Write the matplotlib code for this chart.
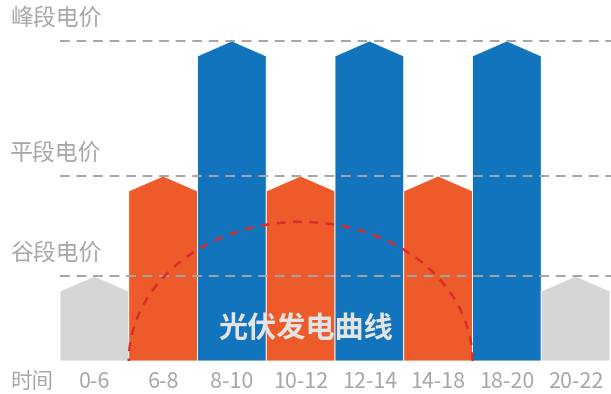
import matplotlib.pyplot as plt
from matplotlib.patches import Polygon, Arc

plt.rcParams['font.family'] = ['Noto Sans CJK SC', 'DejaVu Sans']

# time slots and their price level (normalised so the peak price is 1.0)
slots = ['0-6', '6-8', '8-10', '10-12', '12-14', '14-18', '18-20', '20-22']
kinds = ['valley', 'flat', 'peak', 'flat', 'peak', 'flat', 'peak', 'valley']
levels = {'valley': 0.265, 'flat': 0.578, 'peak': 1.0}
level_names = {'valley': '谷段电价', 'flat': '平段电价', 'peak': '峰段电价'}
colors = {'valley': '#D5D6D8', 'flat': '#EE5B2A', 'peak': '#1274BC'}

# solar generation curve: spans 6:00 to 18:00 (bar index 1 to 6)
solar_start, solar_end, solar_peak = 1, 6, 0.435

px = 1 / 320  # one pixel in y data units
bw = 68.75    # bar width in pixels

fig = plt.figure(figsize=(6.11, 3.94), dpi=100)
ax = fig.add_axes([0, 0, 1, 1])
ax.set_xlim(-60 / bw, 551 / bw)
ax.set_ylim(-33 * px, 361 * px)
ax.axis('off')

shoulder = 15 * px
for i, k in enumerate(kinds):
    h = levels[k]
    pts = [(i, 0), (i, h - shoulder), (i + 0.5, h), (i + 1, h - shoulder), (i + 1, 0)]
    ax.add_patch(Polygon(pts, closed=True, facecolor=colors[k],
                         edgecolor='white', linewidth=0.6, zorder=2))

# price level guide lines with labels
for k in ['peak', 'flat', 'valley']:
    ax.plot([0, 551 / bw], [levels[k], levels[k]], color='#A5A5A5', lw=1.4,
            dashes=(5, 3.5), zorder=3)
    ax.text(-50 / bw, levels[k] + 23 * px, level_names[k], fontsize=16.5,
            color='#A8A8A8', ha='left', va='center')

# solar curve
mid = (solar_start + solar_end) / 2
ax.add_patch(Arc((mid, 0), solar_end - solar_start, 2 * solar_peak,
                 theta1=0, theta2=180, color='#DA2A2E', lw=1.8,
                 linestyle=(0, (3.5, 3)), zorder=4))
ax.text(mid + 0.07, 33 * px, '光伏发电曲线', fontsize=21, fontweight='bold',
        color='#E4E4E4', ha='center', va='center', zorder=5)

# time axis labels
ax.text(-28 / bw, -21 * px, '时间', fontsize=15.5, color='#A8A8A8',
        ha='center', va='center')
for i, s in enumerate(slots):
    ax.text(i + 0.5, -21 * px, s, fontsize=15.5, color='#A8A8A8',
            ha='center', va='center')

fig.savefig('out.png', dpi=100)
